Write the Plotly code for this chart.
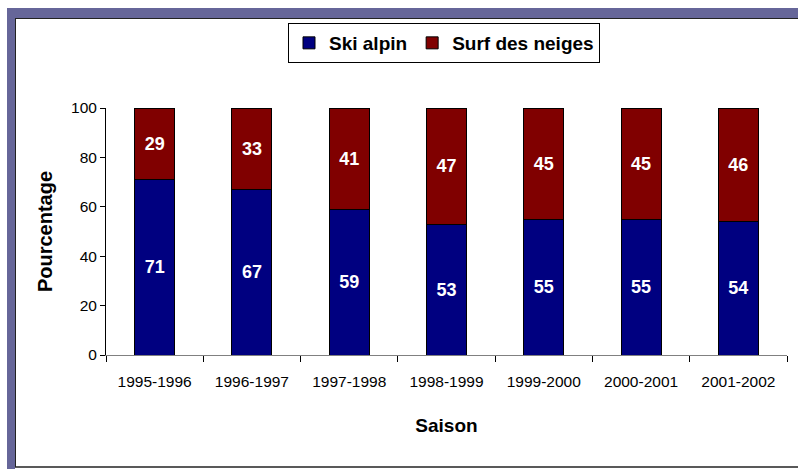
import plotly.graph_objects as go

saisons = ["1995-1996", "1996-1997", "1997-1998", "1998-1999",
           "1999-2000", "2000-2001", "2001-2002"]
ski_alpin = [71, 67, 59, 53, 55, 55, 54]
surf_neiges = [29, 33, 41, 47, 45, 45, 46]

FONT = "Arial"

# plot area in pixels, used to place the frame
L, R, T, B = 106, 787, 108, 355


def px_x(p):
    return (p - L) / (R - L)


def px_y(p):
    return (B - p) / (B - T)


fig = go.Figure()
fig.add_trace(go.Bar(
    x=saisons, y=ski_alpin, name="Ski alpin",
    marker={"color": "#000080", "line": {"color": "black", "width": 1}},
    text=ski_alpin, textposition="inside", insidetextanchor="middle",
    textfont={"color": "white", "size": 18, "family": FONT},
    texttemplate="<b>%{text}</b>",
))
fig.add_trace(go.Bar(
    x=saisons, y=surf_neiges, name="Surf des neiges",
    marker={"color": "#800000", "line": {"color": "black", "width": 1}},
    text=surf_neiges, textposition="inside", insidetextanchor="middle",
    textfont={"color": "white", "size": 18, "family": FONT},
    texttemplate="<b>%{text}</b>",
))

frame = "#666699"
shapes = [
    # purple band top and left
    dict(type="rect", xref="paper", yref="paper", x0=px_x(7), x1=px_x(800),
         y0=px_y(8), y1=px_y(18), fillcolor=frame, line={"width": 0}, layer="below"),
    dict(type="rect", xref="paper", yref="paper", x0=px_x(7), x1=px_x(15),
         y0=px_y(8), y1=px_y(470), fillcolor=frame, line={"width": 0}, layer="below"),
    # dark inner border
    dict(type="line", xref="paper", yref="paper", x0=px_x(15), x1=px_x(800),
         y0=px_y(18.5), y1=px_y(18.5), line={"color": "#222222", "width": 1}),
    dict(type="line", xref="paper", yref="paper", x0=px_x(15.5), x1=px_x(15.5),
         y0=px_y(18), y1=px_y(467), line={"color": "#222222", "width": 1}),
    dict(type="line", xref="paper", yref="paper", x0=px_x(15), x1=px_x(800),
         y0=px_y(467), y1=px_y(467), line={"color": "#222222", "width": 1.5}),
]

fig.update_layout(
    barmode="stack",
    bargap=0.59,
    width=798, height=469,
    margin={"l": L, "r": 798 - R, "t": T, "b": 469 - B},
    paper_bgcolor="white", plot_bgcolor="white",
    font={"family": FONT, "size": 15, "color": "black"},
    shapes=shapes,
    showlegend=True,
    legend={
        "orientation": "h", "x": px_x(444), "xanchor": "center",
        "y": px_y(23), "yanchor": "top",
        "bordercolor": "black", "borderwidth": 1,
        "font": {"size": 19, "family": FONT, "weight": "bold"},
        "traceorder": "normal", "itemwidth": 30,
    },
)
fig.update_xaxes(
    showline=True, linecolor="#808080", linewidth=1,
    ticks="outside", tickson="boundaries", ticklen=6, tickcolor="black",
    ticklabelstandoff=12,
    title={"text": "<b>Saison</b>", "font": {"size": 19}, "standoff": 30},
    tickfont={"size": 15.5},
)
fig.update_yaxes(
    range=[0, 100], dtick=20, showgrid=False, zeroline=False,
    showline=True, linecolor="black", linewidth=1,
    ticks="outside", ticklen=5, tickcolor="black",
    title={"text": "<b>Pourcentage</b>", "font": {"size": 20}, "standoff": 13},
    tickfont={"size": 15.5},
)

fig.write_html("out.html", config={"displayModeBar": False},
               post_script="document.body.style.margin='0';")
